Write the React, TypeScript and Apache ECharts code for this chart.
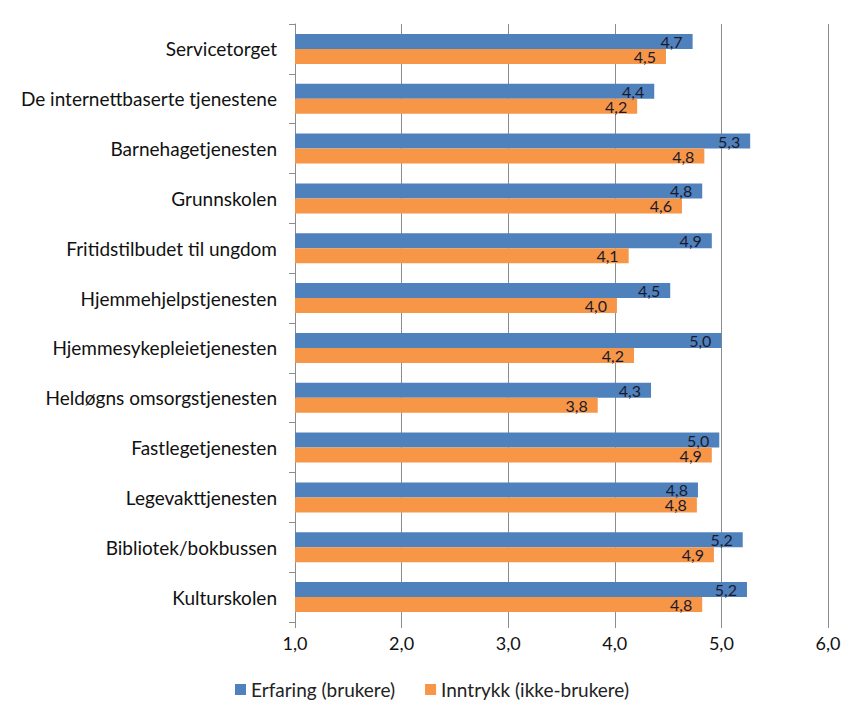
import React, { useEffect, useRef } from "react";
import * as echarts from "echarts";

const categories = [
  "Servicetorget",
  "De internettbaserte tjenestene",
  "Barnehagetjenesten",
  "Grunnskolen",
  "Fritidstilbudet til ungdom",
  "Hjemmehjelpstjenesten",
  "Hjemmesykepleietjenesten",
  "Heldøgns omsorgstjenesten",
  "Fastlegetjenesten",
  "Legevakttjenesten",
  "Bibliotek/bokbussen",
  "Kulturskolen",
];
const erfaring = [4.73, 4.37, 5.27, 4.82, 4.91, 4.52, 5.0, 4.34, 4.98, 4.78, 5.2, 5.24];
const inntrykk = [4.48, 4.21, 4.84, 4.63, 4.13, 4.02, 4.18, 3.84, 4.91, 4.77, 4.93, 4.82];
const seriesNames = ["Erfaring (brukere)", "Inntrykk (ikke-brukere)"];

const FONT = "Lato, 'Open Sans', sans-serif";
const fmt = (v: number) => v.toFixed(1).replace(".", ",");

export default function App() {
  const ref = useRef<HTMLDivElement>(null);
  useEffect(() => {
    if (!ref.current) return;
    const chart = echarts.init(ref.current, undefined, { renderer: "svg" });
    const label = {
      show: true,
      position: "insideRight",
      distance: 10,
      color: "#1a1a2e",
      fontSize: 16,
      fontFamily: FONT,
      formatter: (p: any) => fmt(p.value),
    };
    chart.setOption({
      animation: false,
      backgroundColor: "#ffffff",
      grid: { left: 295, right: 36, top: 24, bottom: 99, containLabel: false },
      legend: {
        bottom: 17,
        left: "center",
        itemWidth: 11,
        itemHeight: 11,
        itemGap: 30,
        icon: "rect",
        textStyle: { fontSize: 19, color: "#222", fontFamily: FONT },
        data: seriesNames,
      },
      xAxis: {
        type: "value",
        min: 1,
        max: 6,
        interval: 1,
        axisLine: { show: false },
        axisTick: { show: true, length: 6, lineStyle: { color: "#8c8c8c" } },
        splitLine: { show: true, lineStyle: { color: "#8c8c8c", width: 1 } },
        axisLabel: {
          formatter: (v: number) => fmt(v),
          fontSize: 18,
          color: "#111",
          fontFamily: FONT,
          margin: 12,
        },
      },
      yAxis: {
        type: "category",
        inverse: true,
        data: categories,
        axisLine: { show: true, lineStyle: { color: "#8c8c8c" } },
        axisTick: { show: true, length: 6, lineStyle: { color: "#8c8c8c" } },
        axisLabel: { fontSize: 19, color: "#111", fontFamily: FONT, margin: 18 },
      },
      series: [
        {
          name: seriesNames[0],
          type: "bar",
          data: erfaring,
          barWidth: 15,
          barGap: "0%",
          barCategoryGap: "40%",
          itemStyle: { color: "#4F81BD" },
          label,
        },
        {
          name: seriesNames[1],
          type: "bar",
          data: inntrykk,
          barWidth: 15,
          barGap: "0%",
          itemStyle: { color: "#F79646" },
          label,
        },
      ],
    });
    return () => chart.dispose();
  }, []);
  return <div ref={ref} style={{ width: 864, height: 721, margin: -8 }} />;
}
